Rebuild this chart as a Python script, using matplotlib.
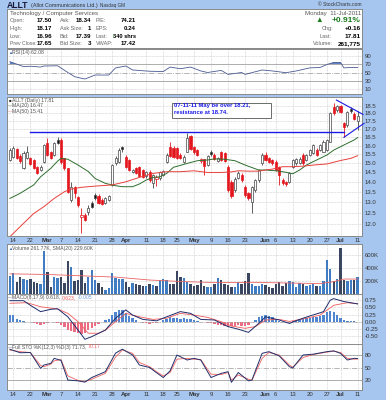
import numpy as np
import matplotlib
matplotlib.use('Agg')
import matplotlib.pyplot as plt
from matplotlib.patches import Rectangle

plt.rcParams['font.family'] = ['Liberation Sans', 'DejaVu Sans']

# ---- data (trading day index: -1 = Feb 11 2011 ... 101 = Jul 11 2011) ----
opens = [15.17, 15.36, 15.78, 15.40, 14.71, 15.27, 15.27, 15.17, 14.80, 14.62,
         15.08, 16.13, 15.60, 15.45, 16.33, 16.33, 15.27, 14.71, 13.09, 13.75,
         13.25, 12.31, 12.38, 12.54, 12.94, 13.33, 13.30, 13.10, 12.95, 13.09,
         13.83, 14.98, 15.08, 15.90, 15.36, 15.17, 14.53, 14.71, 14.76, 14.62,
         14.30, 14.53, 13.92, 14.17, 14.20, 14.35, 15.08, 15.93, 15.84, 15.84,
         15.45, 15.08, 15.64, 16.55, 15.90, 15.74, 15.10, 15.20, 14.90, 15.64,
         15.45, 15.10, 15.64, 15.58, 14.80, 14.00, 13.58, 14.20, 14.35, 13.75,
         13.42, 13.00, 13.58, 14.09, 14.98, 15.45, 15.27, 15.17, 15.08, 14.80,
         14.09, 14.00, 14.00, 14.80, 14.98, 15.00, 15.45, 15.17, 15.45, 15.55,
         15.74, 15.74, 15.64, 15.74, 16.23, 18.45, 18.23, 18.50, 17.36, 17.25,
         18.30, 17.95, 17.50]
highs = [15.85, 15.95, 15.86, 15.50, 15.70, 15.95, 15.35, 15.20, 14.85, 14.90,
         16.10, 16.45, 15.70, 16.20, 16.50, 16.45, 15.30, 14.75, 14.00, 13.80,
         13.30, 12.70, 12.50, 12.85, 13.05, 13.45, 13.40, 13.20, 13.25, 13.35,
         14.95, 15.40, 15.85, 16.00, 15.45, 15.25, 14.70, 14.80, 14.85, 14.70,
         14.55, 14.60, 14.40, 14.35, 14.55, 14.60, 15.55, 16.20, 15.95, 15.90,
         15.55, 15.45, 16.73, 16.65, 16.00, 15.80, 15.30, 15.25, 15.45, 15.75,
         15.55, 15.35, 15.70, 15.65, 14.90, 14.10, 14.25, 14.55, 14.45, 13.85,
         13.50, 13.80, 14.15, 14.70, 15.55, 15.60, 15.35, 15.25, 15.15, 14.85,
         14.20, 14.05, 14.50, 15.25, 15.30, 15.35, 15.55, 15.50, 15.80, 16.10,
         15.85, 16.10, 16.30, 16.40, 18.10, 18.70, 18.55, 18.60, 17.45, 18.15,
         18.45, 18.10, 18.17]
lows = [15.10, 15.30, 15.20, 15.00, 14.65, 15.20, 14.90, 14.65, 14.40, 14.55,
        15.00, 15.40, 15.20, 15.40, 16.10, 14.95, 14.60, 13.45, 13.00, 13.20,
        12.75, 11.58, 12.10, 12.40, 12.70, 13.10, 12.90, 12.85, 12.90, 13.05,
        13.80, 14.90, 15.00, 15.60, 14.75, 14.55, 14.45, 14.40, 14.25, 14.20,
        14.20, 14.00, 13.70, 13.80, 14.10, 14.30, 15.00, 15.35, 15.30, 15.25,
        15.20, 15.00, 15.60, 15.75, 15.50, 15.40, 15.00, 14.35, 14.85, 15.40,
        15.15, 15.05, 15.10, 15.05, 13.50, 13.20, 13.50, 14.15, 14.00, 13.25,
        13.10, 12.50, 13.50, 14.00, 14.90, 15.10, 15.00, 14.90, 14.55, 13.83,
        13.85, 13.80, 13.95, 14.75, 14.90, 14.95, 14.90, 15.10, 15.40, 15.50,
        15.40, 15.70, 15.60, 15.70, 16.20, 17.90, 18.10, 18.00, 16.50, 17.10,
        18.00, 17.55, 16.96]
closes = [15.74, 15.84, 15.27, 15.10, 15.55, 15.65, 14.95, 14.71, 14.48, 14.80,
          16.03, 15.45, 15.27, 16.13, 16.17, 15.08, 14.71, 13.50, 13.75, 13.42,
          12.86, 12.38, 12.16, 12.70, 12.78, 13.17, 12.94, 12.90, 13.17, 13.29,
          14.89, 15.27, 15.74, 15.78, 14.80, 14.62, 14.62, 14.44, 14.30, 14.27,
          14.50, 14.09, 14.35, 14.26, 14.50, 14.55, 15.45, 15.42, 15.36, 15.30,
          15.27, 15.36, 16.43, 15.80, 15.60, 15.45, 15.20, 14.84, 15.40, 15.50,
          15.20, 15.27, 15.17, 15.12, 13.58, 13.30, 14.17, 14.44, 14.09, 13.33,
          13.17, 13.75, 14.09, 14.62, 15.45, 15.17, 15.08, 14.98, 14.62, 14.35,
          13.92, 13.87, 14.44, 15.17, 15.20, 15.25, 14.98, 15.45, 15.74, 16.03,
          15.45, 16.03, 16.23, 16.33, 18.05, 18.00, 18.50, 18.10, 17.15, 18.10,
          18.15, 17.65, 17.81]
volume_k = [282, 318, 190, 257, 226, 215, 226, 190, 174, 154,
            666, 343, 113, 257, 241, 267, 164, 508, 421, 200,
            215, 369, 164, 262, 369, 215, 164, 113, 62, 88,
            328, 241, 236, 226, 190, 113, 174, 150, 140, 130,
            120, 160, 140, 130, 215, 230, 220, 160, 150, 354,
            260, 250, 180, 150, 120, 140, 220, 120, 100, 110,
            150, 240, 220, 160, 140, 110, 100, 180, 150, 200,
            318, 150, 130, 120, 160, 140, 100, 90, 160, 180,
            130, 170, 200, 180, 110, 170, 150, 120, 140, 160,
            120, 130, 200, 523, 385, 200, 230, 708, 220, 200,
            210, 220, 262]
macd_hist = [0.25, 0.22, 0.10, 0.05, 0.03, 0.0, -0.02, -0.05, -0.08, -0.10,
             -0.08, -0.05, -0.02, 0.0, -0.05, -0.12, -0.20, -0.28, -0.33, -0.36,
             -0.40, -0.42, -0.38, -0.30, -0.22, -0.15, -0.08, -0.02, 0.05, 0.10,
             0.25, 0.35, 0.42, 0.40, 0.30, 0.20, 0.12, 0.05, 0.0, -0.03,
             -0.05, -0.07, -0.05, -0.03, 0.0, 0.05, 0.10, 0.15, 0.14, 0.12,
             0.10, 0.12, 0.10, 0.08, 0.05, 0.03, 0.0, -0.02, -0.05, -0.05,
             -0.08, -0.10, -0.12, -0.15, -0.18, -0.16, -0.14, -0.12, -0.15, -0.14,
             -0.10, -0.02, 0.05, 0.15, 0.20, 0.22, 0.20, 0.15, 0.08, 0.03,
             -0.02, -0.04, -0.02, 0.03, 0.06, 0.08, 0.10, 0.12, 0.14, 0.16,
             0.18, 0.20, 0.25, 0.32, 0.38, 0.35, 0.25, 0.12, 0.06, 0.04,
             0.02, 0.01, -0.005]

ma20_x = [-1, 2, 6, 8, 11, 13, 14, 16, 19, 22, 24, 27, 30, 32, 35, 37, 39, 41, 43, 45,
          47, 49, 51, 54, 57, 59, 62, 65, 68, 72, 74, 77, 80, 82, 84, 86, 88, 90, 92,
          94, 96, 98, 100, 101]
ma20 = [13.17, 13.42, 13.84, 14.26, 14.71, 15.11, 15.26, 15.21, 14.89, 14.54, 14.17,
        13.92, 13.80, 13.75, 13.75, 13.89, 14.09, 14.23, 14.26, 14.44, 14.77, 14.87,
        14.98, 15.13, 15.17, 15.23, 15.21, 15.13, 14.89, 14.62, 14.62, 14.58, 14.50,
        14.42, 14.62, 14.89, 15.08, 15.26, 15.45, 15.73, 15.93, 16.13, 16.33, 16.47]
ma50_x = [-1, 2, 6, 9, 12, 15, 17, 20, 24, 29, 33, 37, 41, 45, 49, 53, 57, 61, 64,
          66, 69, 72, 74, 76, 79, 82, 85, 88, 92, 96, 99, 101]
ma50 = [11.44, 11.87, 12.46, 12.78, 13.17, 13.50, 13.63, 13.72, 13.78, 13.84, 14.00,
        14.23, 14.44, 14.53, 14.53, 14.58, 14.49, 14.49, 14.52, 14.58, 14.56, 14.56,
        14.62, 14.67, 14.80, 14.80, 14.83, 14.89, 14.95, 15.14, 15.26, 15.41]

vol_ma_x = [-1, 10, 20, 30, 40, 50, 60, 70, 80, 90, 94, 97, 101]
vol_ma_k = [310, 300, 280, 260, 215, 190, 175, 180, 170, 160, 190, 230, 229.6]

rsi_x = [-1, 1, 3, 5, 8, 9, 13, 16, 18, 21, 24, 28, 30, 33, 35, 40, 44, 46, 49, 52,
         55, 57, 61, 63, 67, 68, 73, 76, 80, 83, 87, 90, 92, 94, 96, 97, 99, 101]
rsi = [75.7, 70, 64, 65, 63, 65.5, 66, 50, 40, 34.5, 44, 44, 61, 65.5, 56, 53, 52.3,
       63, 59, 63, 53.7, 50, 55, 45.5, 50, 45.5, 56, 53.7, 49.5, 53.7, 61, 62, 69, 74,
       74, 61, 62, 62.08]

macd_x = [-1, 3, 5, 8, 11, 13, 16, 19, 21, 23, 27, 30, 33, 35, 38, 42, 45, 49, 52, 55,
          59, 63, 66, 69, 72, 74, 78, 81, 84, 87, 90, 91, 93, 94, 97, 101]
macd = [0.73, 0.73, 0.57, 0.35, 0.43, 0.45, 0.17, -0.29, -0.61, -0.52, -0.29, 0.12,
        0.41, 0.23, 0.08, 0.03, 0.17, 0.35, 0.29, 0.08, 0.06, -0.17, -0.26, -0.37,
        -0.06, 0.17, 0.06, -0.06, 0.08, 0.20, 0.31, 0.35, 0.75, 0.80, 0.70, 0.618]
sig_x = [-1, 4, 8, 13, 16, 19, 22, 25, 27, 30, 33, 37, 41, 45, 49, 53, 57, 61, 64, 68,
         71, 74, 78, 81, 86, 90, 94, 98, 101]
sig = [0.64, 0.66, 0.52, 0.44, 0.29, 0.0, -0.40, -0.40, -0.30, 0.0, 0.29, 0.17, 0.08,
       0.12, 0.29, 0.23, 0.15, 0.0, -0.15, -0.23, -0.17, 0.06, 0.08, 0.01, 0.12, 0.23,
       0.57, 0.66, 0.623]

sto_x = [-1, 2, 5, 8, 9, 11, 12, 14, 16, 19, 21, 23, 27, 30, 32, 35, 37, 40, 42, 44,
         46, 48, 51, 53, 55, 58, 61, 63, 64, 66, 69, 70, 73, 75, 78, 81, 82, 85, 88, 92,
         94, 96, 98, 100, 101]
sto_k = [93.7, 85.5, 86, 48, 56, 60, 72, 67, 20, 18, 15, 26, 40, 84.5, 94, 80, 56, 50,
         37.7, 26, 42, 80, 68, 72, 68, 26, 36, 40, 14.5, 38, 18, 20, 84, 88, 78, 52, 49,
         80, 82, 88, 90, 84, 68, 72, 71.73]
sto_d = [92, 88, 86, 55, 52, 58, 66, 69, 30, 19, 16, 22, 36, 75, 92, 84, 62, 52, 40, 30,
         38, 70, 72, 70, 69, 34, 33, 38, 20, 32, 22, 19, 72, 86, 80, 56, 51, 74, 81, 87,
         89, 86, 72, 70, 70.17]

tick_pos = [0, 5, 10, 14, 19, 24, 29, 33, 39, 44, 48, 53, 58, 63, 68, 74, 77, 82, 87, 92, 96, 101]
tick_lab = ['14', '22', 'Mar', '7', '14', '21', '28', 'Apr', '11', '18', '25', 'May',
            '9', '16', '23', 'Jun', '6', '13', '20', '27', 'Jul', '11']
months = {'Mar', 'Apr', 'May', 'Jun', 'Jul'}

resist_x = [4.9, 97.0]
resist_y = [16.79, 16.79]
tri_up_x = [94.8, 102.6]
tri_up_y = [18.91, 17.94]
tri_lo_x = [97.0, 102.9]
tri_lo_y = [16.49, 17.36]

price_ticks = [12.0, 12.5, 13.0, 13.5, 14.0, 14.5, 15.0, 15.5, 16.0, 16.5, 17.0, 17.5, 18.0, 18.5]

# ---- layout ----
W, H = 386, 400
BG = '#a6c6ef'
GRID = '#c8c8c8'
LAB = '#666666'
XL = (-1.85, 102.3)
PFS = 3.7   # panel legend font size
HFS = 4.0   # header label font size
VFS = 4.4   # header value font size

fig = plt.figure(figsize=(W / 100, H / 100), dpi=100)
fig.patch.set_facecolor(BG)


def box(x0, y0, x1, y1):
    return [x0 / W, 1 - y1 / H, (x1 - x0) / W, (y1 - y0) / H]


def T(x, y, s, **kw):
    kw.setdefault('va', 'center')
    kw.setdefault('fontsize', 4.6)
    return fig.text(x / W, 1 - y / H, s, **kw)


def after(ax, prev, s, gap=1.0, **kw):
    # place a text right after another one
    kw.setdefault('fontsize', PFS)
    return ax.annotate(s, xy=(1, 0.5), xycoords=prev, xytext=(gap, 0),
                       textcoords='offset points', va='center', ha='left',
                       annotation_clip=False, **kw)


def legend(ax, y, icon, icol, parts):
    T(8.5, y, icon, color=icol, fontsize=3.0)
    t = T(12.5, y, parts[0][0], color=parts[0][1], fontsize=PFS)
    for s, col in parts[1:]:
        t = after(ax, t, s, color=col)
    return t


def panel(rect, ylim, yticks, ylabels):
    ax = fig.add_axes(rect)
    ax.set_facecolor('white')
    for s in ax.spines.values():
        s.set_color('#8a8a8a')
        s.set_linewidth(0.7)
    ax.set_xlim(XL)
    ax.set_ylim(ylim)
    ax.set_xticks(tick_pos)
    ax.set_yticks(yticks, ylabels)
    ax.yaxis.tick_right()
    ax.tick_params(axis='both', length=0, labelsize=4.3, colors='#333333', pad=2)
    ax.tick_params(axis='x', labelbottom=False)
    ax.grid(True, color=GRID, ls=(0, (1, 1)), lw=0.5)
    ax.set_axisbelow(True)
    return ax


def date_labels(ax):
    ax.tick_params(axis='x', labelbottom=True, pad=1.5)
    ax.set_xticks(tick_pos, tick_lab)
    for t in ax.get_xticklabels():
        if t.get_text() in months:
            t.set_fontweight('bold')


x = np.arange(-1, 102)
o, h, l, c = (np.array(v) for v in (opens, highs, lows, closes))
prev = np.r_[o[0], c[:-1]]
up = c >= prev

# header
hdr = fig.add_axes(box(7, 9, 362, 48))
hdr.set_xticks([])
hdr.set_yticks([])
for s in hdr.spines.values():
    s.set_color('#8a8a8a')
    s.set_linewidth(0.7)

t0 = T(7, 5, 'ALLT', fontsize=6.2, fontweight='bold', color='#1a1a3a')
t1 = after(hdr, t0, '(Allot Communications Ltd.)', gap=1.5, fontsize=3.9, color='#333333')
after(hdr, t1, 'Nasdaq GM', gap=2.0, fontsize=3.3, color='#333333')
T(362, 5, '\u00a9 StockCharts.com', fontsize=3.6, color='#333333', ha='right')
T(10, 14, 'Technology / Computer Services', color='#555555', fontsize=4.4)
rows = [20.8, 28.5, 36.2, 43.8]
for yy, a, b in zip(rows, ['Open:', 'High:', 'Low:', 'Prev Close:'],
                    ['17.50', '18.17', '16.96', '17.65']):
    T(10, yy, a, color=LAB, fontsize=3.7 if 'Prev' in a else HFS)
    T(52, yy, b, ha='right', fontweight='bold', fontsize=VFS)
for yy, a, b in zip(rows, ['Ask:', 'Ask Size:', 'Bid:', 'Bid Size:'],
                    ['18.34', '1', '17.39', '3']):
    T(60, yy, a, color=LAB, fontsize=HFS)
    T(91, yy, b, ha='right', fontweight='bold', fontsize=VFS)
for yy, a, b in zip(rows, ['P/E:', 'EPS:', 'Last:', 'VWAP:'],
                    ['74.21', '0.24', '340 shrs', '17.42']):
    T(96, yy, a, color=LAB, fontsize=HFS)
    T(136, yy, b, ha='right', fontweight='bold', fontsize=4.1 if 'shrs' in b else VFS)
T(112.5, 36.2, '\u2191', color='#1c8a1c', fontweight='bold', fontsize=4.4, ha='center')
T(361, 14, 'Monday  11-Jul-2011', ha='right', color='#555555', fontsize=4.4)
T(319, 21, '\u25b2', color='#1c7a1c', fontsize=5.5, ha='center')
T(361, 21, '+0.91%', ha='right', color='#1c7a1c', fontweight='bold', fontsize=6)
for yy, a, b in zip(rows[1:], ['Chg:', 'Last:', 'Volume:'], ['+0.16', '17.81', '261,775']):
    T(361, yy, b, ha='right', fontweight='bold', fontsize=VFS + 0.2)
    T(334 - 3 * len(a), yy, a, color=LAB, fontsize=HFS)

# RSI panel
ax_rsi = panel(box(7, 49, 362, 94), (-1.2, 106), [10, 30, 50, 70, 90],
               ['10', '30', '50', '70', '90'])
ax_rsi.grid(False, axis='y')
ax_rsi.axhline(70, color='#a0a0a0', lw=0.6)
ax_rsi.axhline(30, color='#a0a0a0', lw=0.6)
ax_rsi.axhline(50, color='#a8a8a8', lw=0.6, ls='-.')
for v in (10, 90):
    ax_rsi.axhline(v, color=GRID, lw=0.5, ls=(0, (1, 1)))
rx, ry = np.array(rsi_x), np.array(rsi)
ax_rsi.fill_between(rx, ry, 70, where=ry > 70, interpolate=True, color='#5e82c4', lw=0)
ax_rsi.plot(rx, ry, color='#4a5a92', lw=0.6)
legend(ax_rsi, 52.5, '\u25b2', '#3a66b0', [('RSI(14) 62.08', '#555555')])

# price panel
ax = panel(box(7, 96.5, 362, 236), (1, 2), [1, 2], ['', ''])
ax.set_yscale('log')
ax.set_ylim(11.47, 19.16)
ax.set_yticks(price_ticks, ['%.1f' % v for v in price_ticks])
ax.yaxis.set_minor_locator(matplotlib.ticker.NullLocator())
ax.tick_params(axis='y', length=0, labelsize=4.3, colors='#333333', pad=2)
edge = np.where(up, '#444444', '#e3161e')
hollow = c >= o
face = np.where(hollow, 'white', np.where(up, '#111111', '#e3161e'))
ax.vlines(x, l, h, colors=edge, lw=0.6, zorder=3)
bot = np.minimum(o, c)
top = np.maximum(o, c)
ax.bar(x, np.maximum(top - bot, 0.03), bottom=bot, width=0.62, color=face,
       edgecolor=edge, lw=0.5, zorder=4)
ax.plot(ma20_x, ma20, color='#2e6e2e', lw=0.7, zorder=5)
ax.plot(ma50_x, ma50, color='#e8403c', lw=0.7, zorder=5)
ax.plot(resist_x, resist_y, color='#1a1ae6', lw=1.0, zorder=6)
ax.plot(tri_up_x, tri_up_y, color='#1a1ae6', lw=0.8, zorder=6, clip_on=False)
ax.plot(tri_lo_x, tri_lo_y, color='#1a1ae6', lw=0.8, zorder=6, clip_on=False)
date_labels(ax)
legend(ax, 100.3, '\u25a0', '#222222', [('ALLT (Daily) 17.81', '#555555')])
legend(ax, 105.7, '\u2014', '#2e6e2e', [('MA(20) 16.47', '#555555')])
legend(ax, 111.0, '\u2014', '#e8403c', [('MA(50) 15.41', '#555555')])
fig.patches.append(Rectangle((172 / W, 1 - 117.7 / H), 99 / W, 15 / H,
                             transform=fig.transFigure, facecolor='white',
                             edgecolor='#555555', lw=0.6, zorder=7))
T(174, 106, '07-11-11 May be over 18.21,', color='#1a1ae6', fontweight='bold',
  fontsize=4.2, zorder=8)
T(174, 113, 'resistance at 18.74.', color='#1a1ae6', fontweight='bold',
  fontsize=4.2, zorder=8)

# volume panel
ax_v = panel(box(7, 244, 362, 294), (0, 769), [200, 400, 600], ['200K', '400K', '600K'])
vcol = np.where(up, '#3f7cc2', '#3b4660')
ax_v.bar(x, volume_k, width=0.7, color=vcol, lw=0)
ax_v.plot(vol_ma_x, vol_ma_k, color='#e86464', lw=0.6)
legend(ax_v, 248.5, '\u25b2', '#3a66b0', [('Volume 261.77K, SMA(20) 229.60K', '#555555')])

# MACD panel
ax_m = panel(box(7, 294, 362, 344), (-0.774, 0.962),
             [-0.5, -0.25, 0.0, 0.25, 0.5, 0.75],
             ['-0.50', '-0.25', '0.00', '0.25', '0.50', '0.75'])
hv = np.array(macd_hist)
ax_m.bar(x, hv, width=0.7, color=np.where(hv >= 0, '#4f86cf', '#ec6c84'), lw=0)
ax_m.axhline(0, color='#a8a8a8', lw=0.5, ls='-.')
ax_m.plot(sig_x, sig, color='#f05a5a', lw=0.6)
ax_m.plot(macd_x, macd, color='#1e2c6c', lw=0.7)
legend(ax_m, 297.5, '\u2014', '#1e2c6c',
       [('MACD(8,17,9) 0.618,', '#555555'), ('0.623,', '#f05a5a'), ('-0.005', '#6e9ee0')])

# STO panel
ax_s = panel(box(7, 344, 362, 390), (-3.9, 106.4), [20, 50, 80], ['20', '50', '80'])
ax_s.grid(False, axis='y')
ax_s.axhline(80, color='#a0a0a0', lw=0.6)
ax_s.axhline(20, color='#a0a0a0', lw=0.6)
ax_s.axhline(50, color='#a8a8a8', lw=0.6, ls='-.')
ax_s.plot(sto_x, sto_d, color='#f06464', lw=0.6)
ax_s.plot(sto_x, sto_k, color='#22306a', lw=0.7)
date_labels(ax_s)
legend(ax_s, 347.0, '\u2014', '#22306a',
       [('Full STO %K(12,3) %D(3) 71.73,', '#555555'), ('70.17', '#f06464')])

fig.savefig('out.png', dpi=100, facecolor=BG)
